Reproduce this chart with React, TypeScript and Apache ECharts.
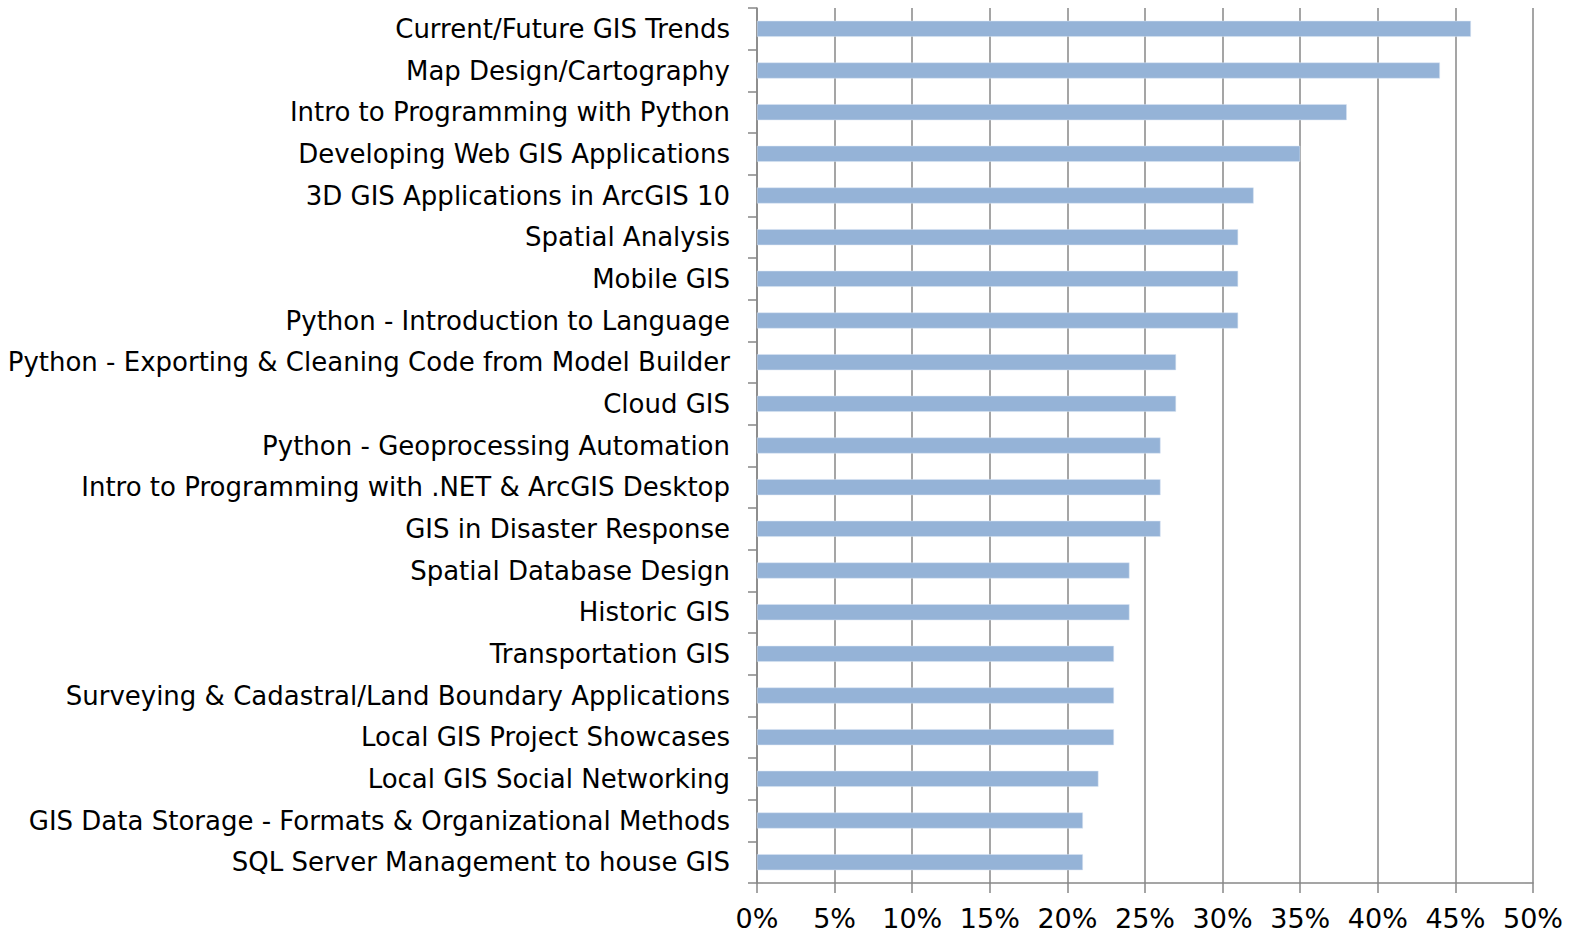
import React, { useEffect, useRef } from "react";
import * as echarts from "echarts";

const categories = [
  "Current/Future GIS Trends",
  "Map Design/Cartography",
  "Intro to Programming with Python",
  "Developing Web GIS Applications",
  "3D GIS Applications in ArcGIS 10",
  "Spatial Analysis",
  "Mobile GIS",
  "Python - Introduction to Language",
  "Python - Exporting & Cleaning Code from Model Builder",
  "Cloud GIS",
  "Python - Geoprocessing Automation",
  "Intro to Programming with .NET & ArcGIS Desktop",
  "GIS in Disaster Response",
  "Spatial Database Design",
  "Historic GIS",
  "Transportation GIS",
  "Surveying & Cadastral/Land Boundary Applications",
  "Local GIS Project Showcases",
  "Local GIS Social Networking",
  "GIS Data Storage - Formats & Organizational Methods",
  "SQL Server Management to house GIS",
];

const percentValues = [46, 44, 38, 35, 32, 31, 31, 31, 27, 27, 26, 26, 26, 24, 24, 23, 23, 23, 22, 21, 21];

const xMin = 0;
const xMax = 50;
const xInterval = 5;

export default function App() {
  const ref = useRef<HTMLDivElement>(null);
  useEffect(() => {
    document.body.style.margin = "0";
    const chart = echarts.init(ref.current!, null, { renderer: "svg" });
    const font = "DejaVu Sans";
    chart.setOption({
      animation: false,
      backgroundColor: "#ffffff",
      grid: { left: 757, right: 37, top: 8, bottom: 53, containLabel: false },
      xAxis: {
        type: "value",
        min: xMin,
        max: xMax,
        interval: xInterval,
        axisLine: { show: true, lineStyle: { color: "#878787", width: 1.5 } },
        axisTick: { show: true, length: 10, lineStyle: { color: "#878787", width: 1.5 } },
        splitLine: { show: true, lineStyle: { color: "#878787", width: 1.5 } },
        axisLabel: {
          formatter: (v: number) => `${v}%`,
          color: "#000",
          fontFamily: font,
          fontSize: 27,
          margin: 22,
        },
      },
      yAxis: {
        type: "category",
        data: categories,
        inverse: true,
        axisLine: { show: true, lineStyle: { color: "#878787", width: 1.5 } },
        axisTick: { show: true, length: 9, lineStyle: { color: "#878787", width: 1.5 } },
        axisLabel: {
          color: "#000",
          fontFamily: font,
          fontSize: 26,
          margin: 27,
        },
      },
      series: [
        {
          type: "bar",
          data: percentValues,
          barWidth: 16,
          itemStyle: { color: "#95B3D7", borderColor: "#D9E5F2", borderWidth: 0.5 },
        },
      ],
    });
    return () => chart.dispose();
  }, []);
  return <div ref={ref} style={{ width: 1570, height: 936, position: "absolute", left: 0, top: 0 }} />;
}
